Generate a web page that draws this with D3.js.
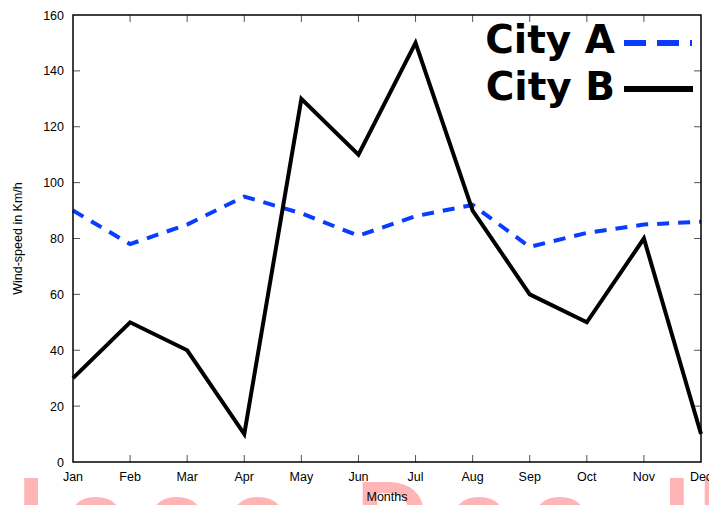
<!DOCTYPE html>
<html>
<head>
<meta charset="utf-8">
<script src="https://cdn.jsdelivr.net/npm/d3@7"></script>
<style>
  body { margin: 0; background: #fff; }
  svg { display: block; }
</style>
</head>
<body>
<svg width="709" height="505"></svg>
<script>
const months = ["Jan","Feb","Mar","Apr","May","Jun","Jul","Aug","Sep","Oct","Nov","Dec"];
const cityA = [90, 78, 85, 95, 89, 81, 88, 92, 77, 82, 85, 86];
const cityB = [30, 50, 40, 10, 130, 110, 150, 90, 60, 50, 80, 10];
const yTicks = [0, 20, 40, 60, 80, 100, 120, 140, 160];
const seriesNames = ["City A", "City B"];

const margin = {left: 73, right: 8, top: 15, bottom: 43};
const width = 709, height = 505;

const svg = d3.select("svg");

// watermark behind the plot (only its top shows)
const wm = svg.append("g")
    .attr("fill", "#ffb5b5")
    .style("font-family", "Liberation Sans, Arial, sans-serif")
    .style("font-weight", "bold")
    .style("font-size", "100px");
wm.append("text")
    .attr("x", -75).attr("y", 551)
    .style("letter-spacing", "20px")
    .text("Alooo Doo");
wm.append("text")
    .attr("x", 663).attr("y", 551)
    .style("letter-spacing", "7px")
    .text("ll");

let x = d3.scalePoint(months, [margin.left, width - margin.right]);
let y = d3.scaleLinear().domain([0, 160]).range([height - margin.bottom, margin.top]);

const x0 = margin.left, x1 = width - margin.right;
const y0 = height - margin.bottom, y1 = margin.top;

// ticks (inward, mirrored)
const tickCol = "#555";
svg.append("g").selectAll("line").data(yTicks.slice(1, -1)).join("line")
    .attr("x1", x0).attr("x2", x0 + 7)
    .attr("y1", d => y(d)).attr("y2", d => y(d))
    .attr("stroke", tickCol).attr("stroke-width", 1);
svg.append("g").selectAll("line").data(yTicks.slice(1, -1)).join("line")
    .attr("x1", x1).attr("x2", x1 - 7)
    .attr("y1", d => y(d)).attr("y2", d => y(d))
    .attr("stroke", tickCol).attr("stroke-width", 1);
svg.append("g").selectAll("line").data(months.slice(1, -1)).join("line")
    .attr("x1", d => x(d)).attr("x2", d => x(d))
    .attr("y1", y0).attr("y2", y0 - 7)
    .attr("stroke", tickCol).attr("stroke-width", 1);
svg.append("g").selectAll("line").data(months.slice(1, -1)).join("line")
    .attr("x1", d => x(d)).attr("x2", d => x(d))
    .attr("y1", y1).attr("y2", y1 + 7)
    .attr("stroke", tickCol).attr("stroke-width", 1);

// tick labels
svg.append("g").selectAll("text").data(yTicks).join("text")
    .attr("x", x0 - 9)
    .attr("y", d => y(d) + 4.5)
    .attr("text-anchor", "end")
    .style("font-family", "Liberation Sans, Arial, sans-serif")
    .style("font-size", "12.5px")
    .text(d => d);
svg.append("g").selectAll("text").data(months).join("text")
    .attr("x", d => x(d))
    .attr("y", y0 + 19)
    .attr("text-anchor", "middle")
    .style("font-family", "Liberation Sans, Arial, sans-serif")
    .style("font-size", "12.5px")
    .text(d => d);

// axis titles
svg.append("text")
    .attr("transform", `translate(22,${(y0 + y1) / 2}) rotate(-90)`)
    .attr("text-anchor", "middle")
    .style("font-family", "Liberation Sans, Arial, sans-serif")
    .style("font-size", "12.5px")
    .text("Wind-speed in Km/h");
svg.append("text")
    .attr("x", 387)
    .attr("y", y0 + 39)
    .attr("text-anchor", "middle")
    .style("font-family", "Liberation Sans, Arial, sans-serif")
    .style("font-size", "12.5px")
    .text("Months");

// lines
let line = d3.line().x((d, i) => x(months[i])).y(d => y(d));

svg.append("path")
    .attr("d", line(cityA))
    .attr("fill", "none")
    .attr("stroke", "#0a3cff")
    .attr("stroke-width", 4)
    .attr("stroke-dasharray", "12,9");

svg.append("path")
    .attr("d", line(cityB))
    .attr("fill", "none")
    .attr("stroke", "#000")
    .attr("stroke-width", 4)
    .attr("stroke-linejoin", "miter");

// frame
svg.append("rect")
    .attr("x", x0).attr("y", y1)
    .attr("width", x1 - x0).attr("height", y0 - y1)
    .attr("fill", "none")
    .attr("stroke", "#000")
    .attr("stroke-width", 1.5);

// legend
let leg = svg.append("g");
leg.selectAll("text").data(seriesNames).join("text")
    .attr("x", 615)
    .attr("y", (d, i) => 53 + i * 47)
    .attr("text-anchor", "end")
    .style("font-family", "DejaVu Sans, sans-serif")
    .style("font-weight", "bold")
    .style("font-size", "39px")
    .text(d => d);
leg.append("line")
    .attr("x1", 624).attr("x2", 692)
    .attr("y1", 43).attr("y2", 43)
    .attr("stroke", "#0a3cff")
    .attr("stroke-width", 6)
    .attr("stroke-dasharray", "22,11");
leg.append("line")
    .attr("x1", 624).attr("x2", 693)
    .attr("y1", 89).attr("y2", 89)
    .attr("stroke", "#000")
    .attr("stroke-width", 6);
</script>
</body>
</html>
